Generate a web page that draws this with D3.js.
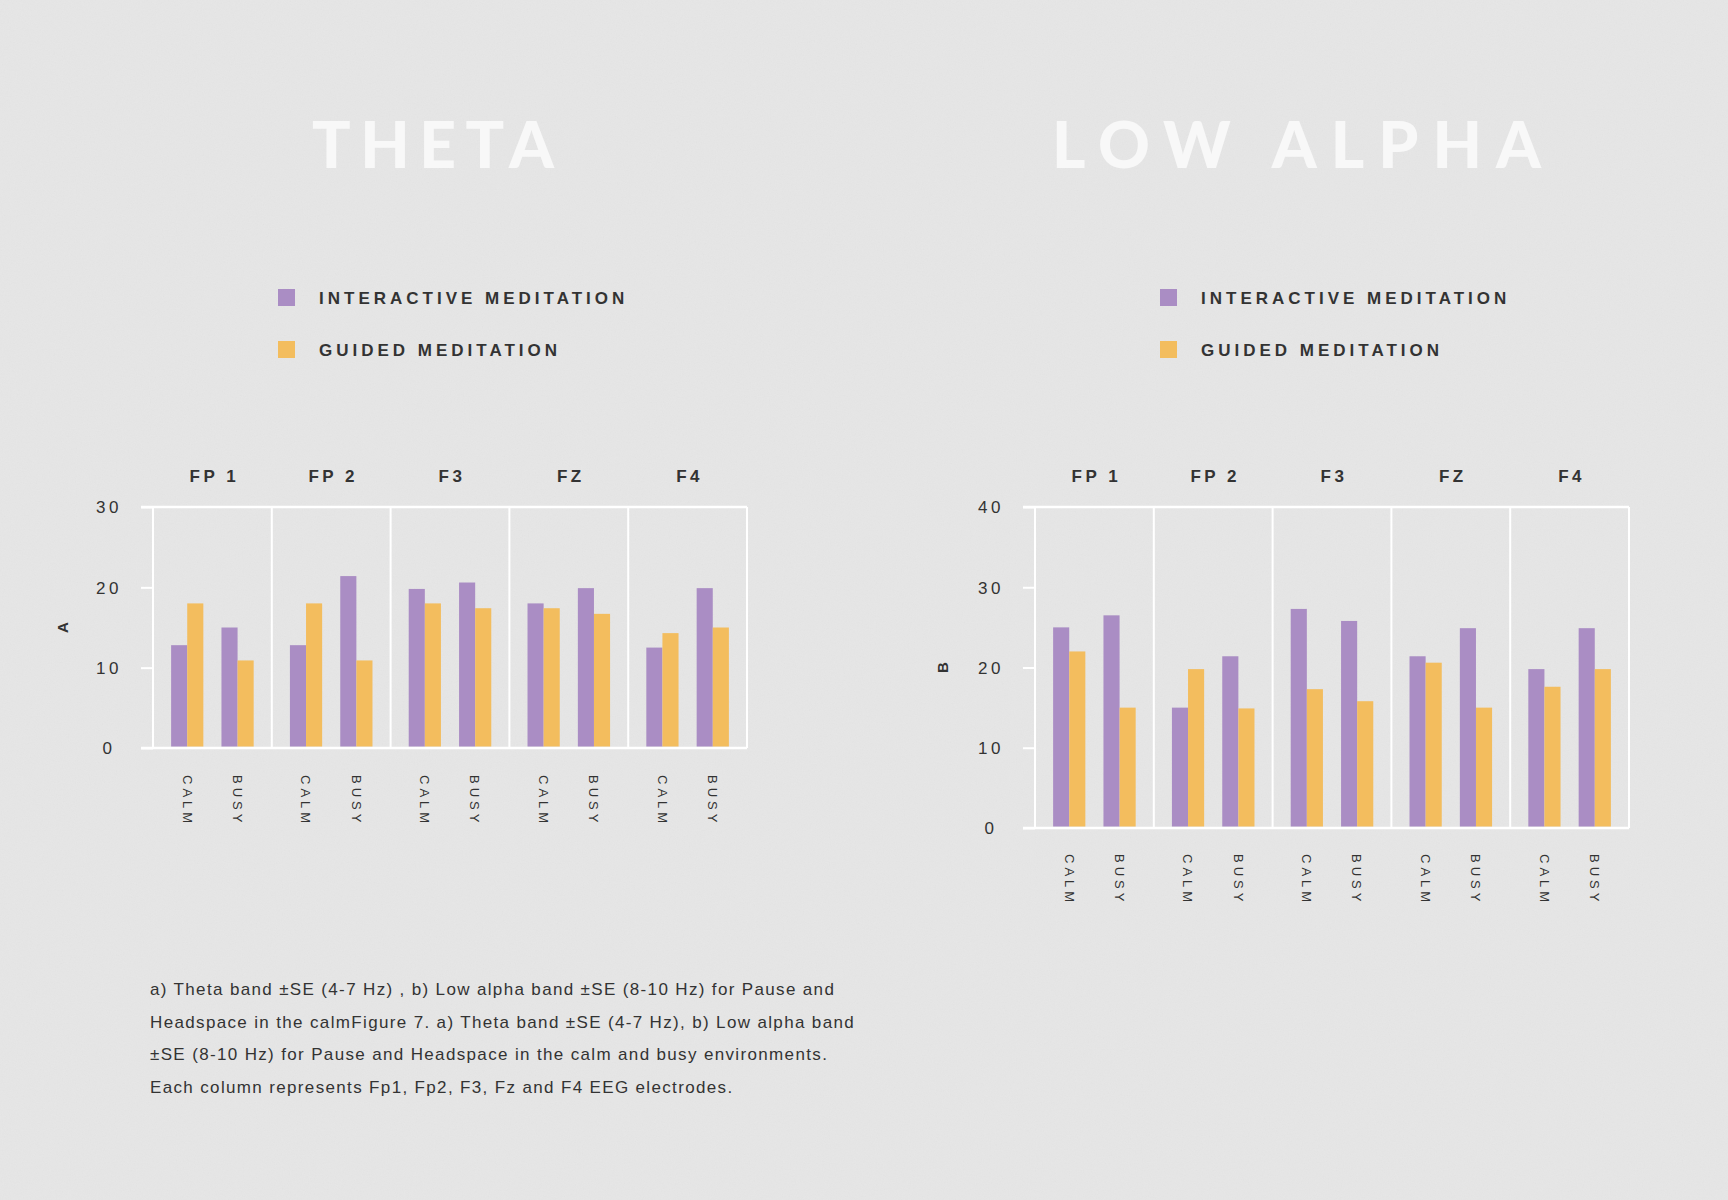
<!DOCTYPE html>
<html>
<head>
<meta charset="utf-8">
<script src="https://cdn.jsdelivr.net/npm/d3@7"></script>
<style>
  html, body { margin: 0; padding: 0; background: #e6e6e6; }
  svg { display: block; }
</style>
</head>
<body>
<svg id="chart" width="1728" height="1200"></svg>
<script>
// ---------- DATA ----------
const groups = ["FP 1", "FP 2", "F3", "FZ", "F4"];
const conditions = ["CALM", "BUSY"];
const seriesNames = ["INTERACTIVE MEDITATION", "GUIDED MEDITATION"];
const seriesKeys = ["interactive", "guided"];

// values per group: [calm, busy]
const thetaInteractive = [[12.8, 15.0], [12.8, 21.4], [19.8, 20.6], [18.0, 19.9], [12.5, 19.9]];
const thetaGuided      = [[18.0, 10.9], [18.0, 10.9], [18.0, 17.4], [17.4, 16.7], [14.3, 15.0]];
const alphaInteractive = [[25.0, 26.5], [15.0, 21.4], [27.3, 25.8], [21.4, 24.9], [19.8, 24.9]];
const alphaGuided      = [[22.0, 15.0], [19.8, 14.9], [17.3, 15.8], [20.6, 15.0], [17.6, 19.8]];

const thetaTicks = [0, 10, 20, 30];
const alphaTicks = [0, 10, 20, 30, 40];

const chartTitles = ["THETA", "LOW ALPHA"];
const axisLabels = ["A", "B"];

const captionLines = [
  "a) Theta band \u00b1SE (4-7 Hz) , b) Low alpha band \u00b1SE (8-10 Hz) for Pause and",
  "Headspace in the calmFigure 7. a) Theta band \u00b1SE (4-7 Hz), b) Low alpha band",
  "\u00b1SE (8-10 Hz) for Pause and Headspace in the calm and busy environments.",
  "Each column represents Fp1, Fp2, F3, Fz and F4 EEG electrodes."
];

// ---------- STYLE / LAYOUT ----------
const colors = { interactive: "#aa8dc4", guided: "#f3bd5e" };
const textColor = "#333333";
const FONT = "'Liberation Sans', Arial, sans-serif";

const svg = d3.select("#chart");

// background + subtle paper noise
const defs = svg.append("defs");
const f = defs.append("filter").attr("id", "noise").attr("x", 0).attr("y", 0).attr("width", "100%").attr("height", "100%");
f.append("feTurbulence").attr("type", "fractalNoise").attr("baseFrequency", 0.85).attr("numOctaves", 2).attr("seed", 3);
f.append("feColorMatrix").attr("type", "saturate").attr("values", 0);
svg.append("rect").attr("width", 1728).attr("height", 1200).attr("fill", "#e6e6e6");
svg.append("rect").attr("width", 1728).attr("height", 1200).attr("filter", "url(#noise)").attr("opacity", 0.05);

const charts = [
  { title: chartTitles[0], titleX: 312, titleLen: 242, axisLabel: axisLabels[0],
    interactive: thetaInteractive, guided: thetaGuided, ticks: thetaTicks,
    x0: 153, x1: 747, y0: 507, y1: 748, tickX: 109, labelX: 63,
    legendX: 278, xLabelY: 775 },
  { title: chartTitles[1], titleX: 1052, titleLen: 489, axisLabel: axisLabels[1],
    interactive: alphaInteractive, guided: alphaGuided, ticks: alphaTicks,
    x0: 1035, x1: 1629, y0: 507, y1: 828, tickX: 991, labelX: 943,
    legendX: 1160, xLabelY: 854 }
];

charts.forEach(c => {
  const g = svg.append("g");

  // Title
  g.append("text")
    .attr("x", c.titleX).attr("y", 168)
    .attr("textLength", c.titleLen).attr("lengthAdjust", "spacing")
    .attr("font-family", "Lato, 'Open Sans', sans-serif")
    .attr("font-weight", 900).attr("font-size", 64)
    .attr("fill", "#f8f8f8")
    .text(c.title);

  // Legend
  seriesKeys.forEach((k, i) => {
    const ly = 289 + i * 52;
    g.append("rect").attr("x", c.legendX).attr("y", ly).attr("width", 17).attr("height", 17).attr("fill", colors[k]);
    g.append("text")
      .attr("x", c.legendX + 41).attr("y", ly + 15)
      .attr("font-family", FONT).attr("font-weight", 700).attr("font-size", 17)
      .attr("letter-spacing", 4).attr("fill", textColor)
      .text(seriesNames[i]);
  });

  // Scales
  const yMax = c.ticks[c.ticks.length - 1];
  const y = d3.scaleLinear().domain([0, yMax]).range([c.y1, c.y0]);
  const xGroup = d3.scaleBand().domain(groups).range([c.x0, c.x1]).padding(0);
  const xCond = d3.scaleBand().domain(conditions).range([0, xGroup.bandwidth()]).paddingInner(0.36).paddingOuter(0.36);
  const xSeries = d3.scaleBand().domain(seriesKeys).range([0, xCond.bandwidth()]).padding(0);

  // Y axis ticks (short ticks to the left)
  const yAxis = d3.axisLeft(y).tickValues(c.ticks).tickSize(12).tickPadding(0).tickFormat(d3.format("d"));
  const ax = g.append("g").attr("transform", `translate(${c.x0},0)`).call(yAxis);
  ax.select(".domain").remove();
  ax.selectAll(".tick line").attr("stroke", "#ffffff").attr("stroke-width", 2);
  ax.selectAll(".tick text")
    .attr("x", c.tickX - c.x0).attr("text-anchor", "middle")
    .attr("font-family", FONT).attr("font-size", 17).attr("letter-spacing", 3.5)
    .attr("fill", textColor).attr("dy", "0.34em");

  // Frame: top and bottom lines
  [0, yMax].forEach(v => {
    g.append("line")
      .attr("x1", c.x0 - 12).attr("x2", c.x1)
      .attr("y1", y(v)).attr("y2", y(v))
      .attr("stroke", "#ffffff").attr("stroke-width", 2.5);
  });
  // Panel dividers
  const bounds = groups.map(gr => xGroup(gr)).concat([c.x1]);
  bounds.forEach(bx => {
    g.append("line")
      .attr("x1", bx).attr("x2", bx)
      .attr("y1", c.y0).attr("y2", c.y1)
      .attr("stroke", "#ffffff").attr("stroke-width", 2);
  });

  // Group headers
  g.selectAll(".gh").data(groups).join("text")
    .attr("x", d => xGroup(d) + xGroup.bandwidth() / 2 + 2)
    .attr("y", 482)
    .attr("text-anchor", "middle")
    .attr("font-family", FONT).attr("font-weight", 700).attr("font-size", 17)
    .attr("letter-spacing", 3.5).attr("fill", textColor)
    .text(d => d);

  // Bars
  const barData = [];
  groups.forEach((gr, gi) => {
    conditions.forEach((cond, ci) => {
      seriesKeys.forEach(k => {
        barData.push({ gr, cond, k, v: c[k][gi][ci] });
      });
    });
  });
  g.selectAll(".bar").data(barData).join("rect")
    .attr("x", d => xGroup(d.gr) + xCond(d.cond) + xSeries(d.k))
    .attr("width", xSeries.bandwidth())
    .attr("y", d => y(d.v))
    .attr("height", d => y(0) - 1.5 - y(d.v))
    .attr("fill", d => colors[d.k]);

  // X labels (rotated)
  const xl = [];
  groups.forEach(gr => conditions.forEach(cond => xl.push({ gr, cond })));
  g.selectAll(".xl").data(xl).join("text")
    .attr("transform", d => `translate(${xGroup(d.gr) + xCond(d.cond) + xCond.bandwidth() / 2},${c.xLabelY}) rotate(90)`)
    .attr("dy", "0.36em")
    .attr("font-family", FONT).attr("font-size", 13)
    .attr("letter-spacing", 4).attr("fill", textColor)
    .text(d => d.cond);

  // Y axis label
  g.append("text")
    .attr("transform", `translate(${c.labelX},${(c.y0 + c.y1) / 2}) rotate(-90)`)
    .attr("text-anchor", "middle").attr("dy", "0.36em")
    .attr("font-family", FONT).attr("font-weight", 700).attr("font-size", 15)
    .attr("fill", textColor)
    .text(c.axisLabel);
});

// Caption
svg.append("g").selectAll("text").data(captionLines).join("text")
  .attr("x", 150)
  .attr("y", (d, i) => 995 + i * 32.5)
  .attr("font-family", FONT).attr("font-size", 17)
  .attr("letter-spacing", 1.35).attr("fill", textColor)
  .text(d => d);
</script>
</body>
</html>
